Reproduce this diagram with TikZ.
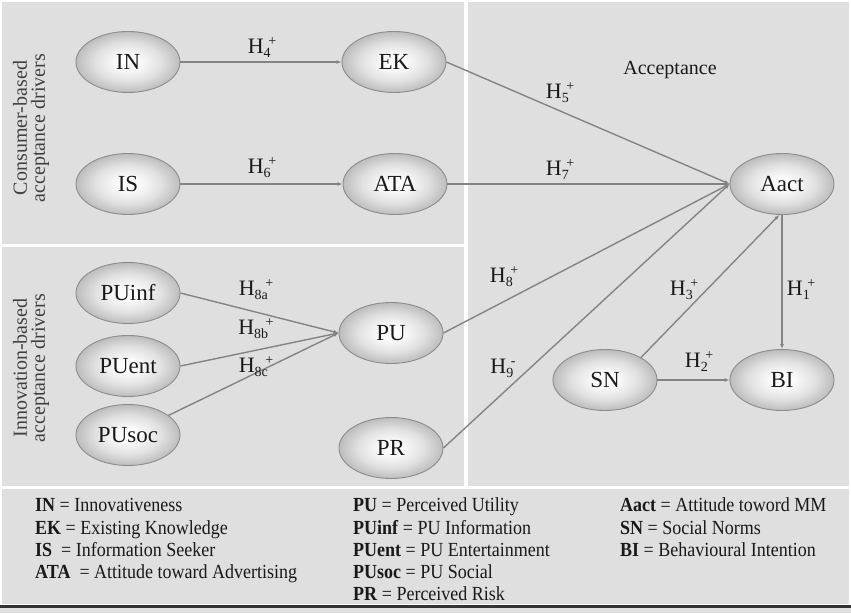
\documentclass[tikz,border=0pt]{standalone}
\usepackage{fontspec}
\setmainfont{Liberation Serif}
\newfontfamily\legfont{Liberation Serif}[FakeStretch=0.9]
\usetikzlibrary{shapes.geometric,arrows.meta}
\definecolor{panelbg}{RGB}{223,223,223}
\definecolor{linegray}{RGB}{132,132,132}
\definecolor{rimgray}{RGB}{140,140,140}
\definecolor{txt}{RGB}{25,25,25}
\pgfdeclareradialshading{ellshade}{\pgfpoint{0bp}{0bp}}{%
  color(0bp)=(white); color(6bp)=(white!98!black); color(16bp)=(white!88!black);
  color(25bp)=(white!74!black); color(50bp)=(white!74!black)}
\newcommand\hyp[2]{H\raisebox{-4pt}{\fontsize{14}{14}\selectfont #1}\kern-2.5pt\raisebox{8pt}{\fontsize{14}{14}\selectfont #2}}
\begin{document}
\begin{tikzpicture}[x=1pt,y=-1pt,
  construct/.style={ellipse, draw=rimgray, line width=0.9pt, shading=ellshade,
    minimum width=104pt, minimum height=61pt, inner sep=0pt, font=\fontsize{23}{26}\selectfont, text=txt},
  link/.style={draw=linegray, line width=1.4pt, -{Latex[length=5pt,width=4pt]}},
  hlabel/.style={font=\fontsize{22}{24}\selectfont, text=txt, inner sep=0pt},
  sidelabel/.style={rotate=90, align=center, font=\fontsize{20}{18}\selectfont, text=black!75},
  legend/.style={anchor=base west, inner sep=0pt, font=\legfont\fontsize{20}{22}\selectfont, text=txt}]
\useasboundingbox (0,0) rectangle (851,613);
\fill[white] (0,0) rectangle (851,613);
\fill[panelbg] (2,2) rectangle (464,244);
\fill[panelbg] (2,247) rectangle (464,486);
\fill[panelbg] (468,2) rectangle (849,486);
\fill[panelbg] (2,489) rectangle (849,604);
\fill[black!80] (0,605) rectangle (851,608);
\fill[panelbg] (0,608) rectangle (851,613);

\node[sidelabel] (cons) at (31,128) {Consumer-based\\acceptance drivers};
\node[sidelabel] (inno) at (31,368) {Innovation-based\\acceptance drivers};
\node[font=\fontsize{20}{22}\selectfont, text=txt] (acc) at (670,70) {Acceptance};

\node[construct] (IN) at (128,62) {IN};
\node[construct] (EK) at (394,62) {EK};
\node[construct] (IS) at (128,184) {IS};
\node[construct] (ATA) at (395,184) {ATA};
\node[construct] (Aact) at (782,184) {Aact};
\node[construct] (PUinf) at (128,293) {PUinf};
\node[construct] (PUent) at (128,366) {PUent};
\node[construct] (PUsoc) at (128,435) {PUsoc};
\node[construct] (PU) at (391,333) {PU};
\node[construct] (PR) at (391,448) {PR};
\node[construct] (SN) at (605,380) {SN};
\node[construct] (BI) at (782,380) {BI};

\draw[link] (IN.east) -- (EK.west);
\draw[link] (IS.east) -- (ATA.west);
\draw[link] (EK.east) -- (Aact.west);
\draw[link] (ATA.east) -- (Aact.west);
\draw[link] (PU.east) -- (Aact.west);
\draw[link] (PR.east) -- (Aact.west);
\draw[link] (PUinf.east) -- (PU.west);
\draw[link] (PUent.east) -- (PU.west);
\draw[link] (PUsoc) -- (PU.west);
\draw[link] (SN.32) -- (Aact.265);
\draw[link] (SN.east) -- (BI.west);
\draw[link] (Aact.south) -- (BI.north);

\node[hlabel] (h4) at (262,48) {\hyp{4}{+}};
\node[hlabel] (h6) at (262,168) {\hyp{6}{+}};
\node[hlabel] (h5) at (560,93) {\hyp{5}{+}};
\node[hlabel] (h7) at (560,170) {\hyp{7}{+}};
\node[hlabel] (h8a) at (256,290) {\hyp{8a}{+}};
\node[hlabel] (h8b) at (256,329) {\hyp{8b}{+}};
\node[hlabel] (h8c) at (256,367) {\hyp{8c}{+}};
\node[hlabel] (h8) at (504,277) {\hyp{8}{+}};
\node[hlabel] (h9) at (503,368) {\hyp{9}{-}};
\node[hlabel] (h3) at (684,290) {\hyp{3}{+}};
\node[hlabel] (h1) at (801,290) {\hyp{1}{+}};
\node[hlabel] (h2) at (699,362) {\hyp{2}{+}};

\node[legend] (l1) at (35,511) {\textbf{IN} = Innovativeness};
\node[legend] (l2) at (35,534) {\textbf{EK} = Existing Knowledge};
\node[legend] (l3) at (35,556) {\textbf{IS} \ = Information Seeker};
\node[legend] (l4) at (35,578) {\textbf{ATA} \ = Attitude toward Advertising};
\node[legend] (m1) at (353,511) {\textbf{PU} = Perceived Utility};
\node[legend] (m2) at (353,534) {\textbf{PUinf} = PU Information};
\node[legend] (m3) at (353,556) {\textbf{PUent} = PU Entertainment};
\node[legend] (m4) at (353,578) {\textbf{PUsoc} = PU Social};
\node[legend] (m5) at (353,600) {\textbf{PR} = Perceived Risk};
\node[legend] (r1) at (620,511) {\textbf{Aact} = Attitude toword MM};
\node[legend] (r2) at (620,534) {\textbf{SN} = Social Norms};
\node[legend] (r3) at (620,556) {\textbf{BI} = Behavioural Intention};
\end{tikzpicture}
\end{document}
